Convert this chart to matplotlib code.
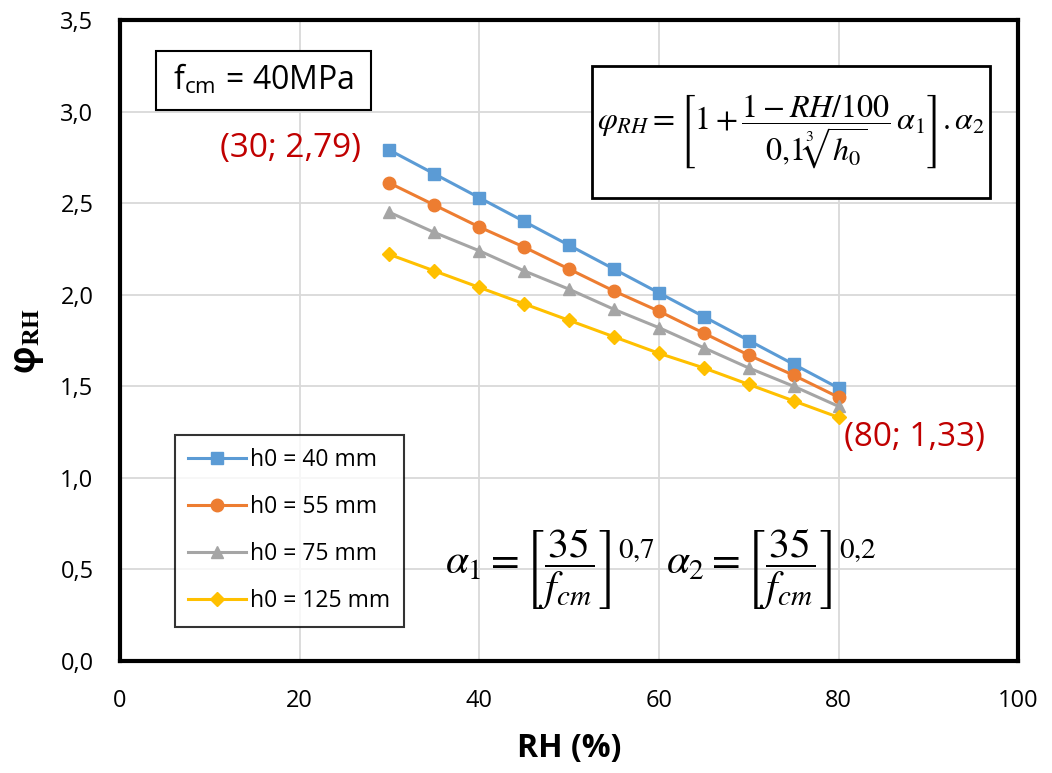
import numpy as np
import matplotlib.pyplot as plt
from matplotlib.patches import Rectangle
from matplotlib.ticker import FuncFormatter

# Dados
rh = [30, 35, 40, 45, 50, 55, 60, 65, 70, 75, 80]
phi_40 = [2.79, 2.66, 2.53, 2.40, 2.27, 2.14, 2.01, 1.88, 1.75, 1.62, 1.49]
phi_55 = [2.61, 2.49, 2.37, 2.26, 2.14, 2.02, 1.91, 1.79, 1.67, 1.56, 1.44]
phi_75 = [2.45, 2.34, 2.24, 2.13, 2.03, 1.92, 1.82, 1.71, 1.60, 1.50, 1.39]
phi_125 = [2.22, 2.13, 2.04, 1.95, 1.86, 1.77, 1.68, 1.60, 1.51, 1.42, 1.33]
labels = ['h0 = 40 mm', 'h0 = 55 mm', 'h0 = 75 mm', 'h0 = 125 mm']

plt.rcParams['font.family'] = ['Open Sans', 'DejaVu Sans']
plt.rcParams['mathtext.fontset'] = 'stix'

fig = plt.figure(figsize=(10.52, 7.73), dpi=100)
ax = fig.add_axes([0.114, 0.145, 0.854, 0.829])

cores = ['#5B9BD5', '#ED7D31', '#A5A5A5', '#FFC000']
marcadores = ['s', 'o', '^', 'D']
tamanhos = [9, 9, 9, 7]
series = [phi_40, phi_55, phi_75, phi_125]
for y, c, m, ms, lab in zip(series, cores, marcadores, tamanhos, labels):
    ax.plot(rh, y, color=c, marker=m, markersize=ms, lw=2.2, label=lab)

ax.set_xlim(0, 100)
ax.set_ylim(0, 3.5)
ax.set_xticks(np.arange(0, 101, 20))
ax.set_yticks(np.arange(0, 3.51, 0.5))
ax.yaxis.set_major_formatter(FuncFormatter(lambda v, p: f'{v:.1f}'.replace('.', ',')))
ax.grid(True, color='#D9D9D9', lw=1.3)
ax.set_axisbelow(True)
ax.tick_params(length=0, labelsize=17)
ax.tick_params(axis='x', pad=20)
ax.tick_params(axis='y', pad=19)
for s in ax.spines.values():
    s.set_linewidth(3)
    s.set_color('black')

ax.set_xlabel('RH (%)', fontsize=23, fontweight='bold', labelpad=14)
ax.set_ylabel(r'φ$_{\mathbf{RH}}$', fontsize=25, fontweight='bold', labelpad=10)

# Anotações dos pontos extremos
ax.text(26.8, 2.80, '(30; 2,79)', color='#C00000', fontsize=24, ha='right', va='center')
ax.text(80.6, 1.22, '(80; 1,33)', color='#C00000', fontsize=24, ha='left', va='center')

# Caixa fcm
ax.add_patch(Rectangle((4.0, 3.01), 24.0, 0.32, fc='white', ec='black', lw=1.5, zorder=4))
ax.text(16.0, 3.17, r'f$_{\mathregular{cm}}$ = 40MPa', fontsize=23, ha='center', va='center',
        zorder=5)

# Fórmula principal
ax.add_patch(Rectangle((52.6, 2.53), 44.3, 0.72, fc='white', ec='black', lw=2, zorder=4))
ax.text(74.7, 2.89,
        r'$\varphi_{RH} = \left[1 + \dfrac{1 - RH/100}{0{,}1\sqrt[3]{h_0}}\,\alpha_1\right].\alpha_2$',
        fontsize=23, ha='center', va='center', zorder=5)

# Fórmulas alfa
ax.text(59.6, 0.50, r'$\alpha_1 = \left[\dfrac{35}{f_{cm}}\right]^{0{,}7}$', fontsize=30,
        ha='right', va='center')
ax.text(60.8, 0.50, r'$\alpha_2 = \left[\dfrac{35}{f_{cm}}\right]^{0{,}2}$', fontsize=30,
        ha='left', va='center')

leg = ax.legend(loc='lower left', bbox_to_anchor=(0.061, 0.053), borderaxespad=0, fontsize=16.5,
                frameon=True, fancybox=False, edgecolor='black', handlelength=2.5,
                handletextpad=0.2, labelspacing=1.0, borderpad=0.6)
leg.get_frame().set_linewidth(1.5)

fig.savefig('out.png', dpi=100, facecolor='white')
